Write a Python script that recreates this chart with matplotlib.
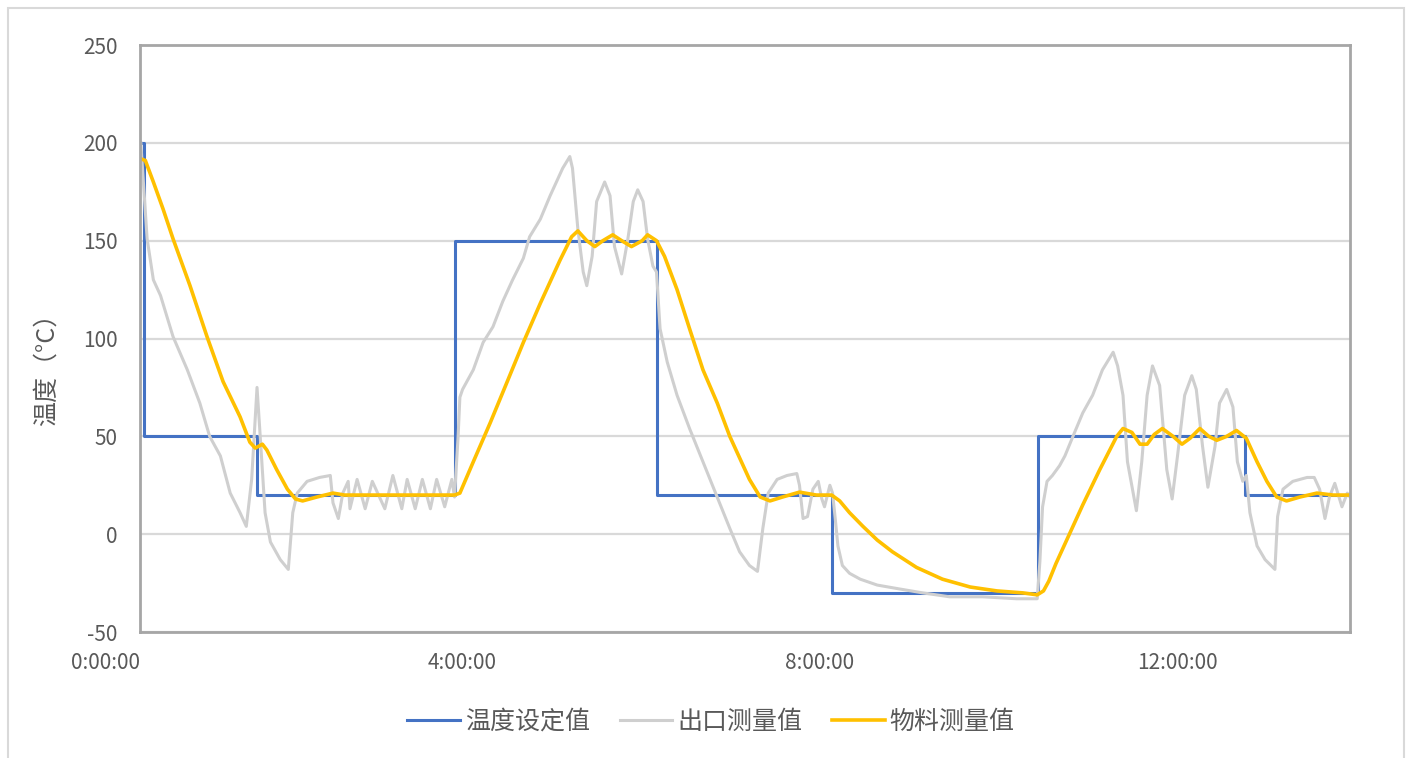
import matplotlib
matplotlib.use('Agg')
import matplotlib.pyplot as plt
import matplotlib.transforms as mtransforms
from matplotlib.patches import Rectangle

plt.rcParams['font.family'] = ['Noto Sans CJK SC', 'DejaVu Sans']
plt.rcParams['axes.unicode_minus'] = False

# 时间（小时）与温度（°C）
set_t = [0.41, 0.43, 1.70, 3.915, 6.175, 8.13, 10.44, 12.75, 13.93]
set_v = [200, 50, 20, 150, 20, -30, 50, 20, 20]

out_t = [0.40, 0.47, 0.54, 0.62, 0.76, 0.92, 1.06, 1.17, 1.29, 1.40, 1.51, 1.58, 1.64, 1.70,
         1.73, 1.79, 1.85, 1.96, 2.05, 2.10, 2.15, 2.26, 2.40, 2.52, 2.55, 2.61, 2.66, 2.72,
         2.74, 2.82, 2.91, 2.99, 3.13, 3.22, 3.32, 3.38, 3.47, 3.55, 3.64, 3.71, 3.80, 3.88,
         3.91, 3.95, 3.97, 4.00, 4.12, 4.23, 4.34, 4.45, 4.56, 4.68, 4.75, 4.87, 4.98, 5.06,
         5.12, 5.20, 5.23, 5.29, 5.35, 5.39, 5.45, 5.50, 5.59, 5.65, 5.70, 5.78, 5.85, 5.91,
         5.96, 6.02, 6.07, 6.13, 6.17, 6.21, 6.29, 6.40, 6.54, 6.69, 6.85, 6.99, 7.10, 7.21,
         7.30, 7.36, 7.42, 7.52, 7.63, 7.74, 7.77, 7.81, 7.86, 7.92, 7.98, 8.02, 8.05, 8.11,
         8.14, 8.17, 8.20, 8.25, 8.33, 8.45, 8.64, 8.89, 9.15, 9.45, 9.82, 10.20, 10.43, 10.46,
         10.49, 10.54, 10.60, 10.68, 10.74, 10.83, 10.94, 11.05, 11.16, 11.28, 11.33, 11.39,
         11.44, 11.54, 11.60, 11.66, 11.72, 11.80, 11.88, 11.94, 12.00, 12.08, 12.16, 12.21,
         12.28, 12.34, 12.42, 12.47, 12.55, 12.62, 12.67, 12.73, 12.77, 12.81, 12.89, 12.98,
         13.09, 13.12, 13.18, 13.29, 13.45, 13.53, 13.59, 13.65, 13.70, 13.76, 13.84, 13.90,
         13.93]
out_v = [200, 151, 130, 122, 101, 84, 67, 50, 40, 21, 11, 4, 28, 75,
         54, 11, -4, -13, -18, 11, 21, 27, 29, 30, 16, 8, 21, 27,
         13, 28, 13, 27, 13, 30, 13, 28, 13, 28, 13, 28, 14, 28,
         19, 50, 70, 74, 84, 98, 106, 119, 130, 141, 152, 161, 173, 181,
         187, 193, 187, 156, 134, 127, 142, 170, 180, 173, 147, 133, 151, 170,
         176, 170, 151, 137, 134, 105, 88, 71, 54, 37, 19, 3, -9, -16,
         -19, 3, 21, 28, 30, 31, 25, 8, 9, 23, 27, 18, 14, 25,
         21, 8, -6, -16, -20, -23, -26, -28, -30, -32, -32, -33, -33, -14,
         14, 27, 30, 35, 40, 50, 62, 71, 84, 93, 86, 71,
         37, 12, 37, 71, 86, 76, 33, 18, 40, 71, 81, 74,
         45, 24, 45, 67, 74, 65, 37, 27, 30, 11, -6, -13,
         -18, 9, 23, 27, 29, 29, 23, 8, 19, 26, 14, 21,
         19]

mat_t = [0.39, 0.45, 0.54, 0.65, 0.76, 0.95, 1.14, 1.32, 1.51, 1.62, 1.68, 1.76, 1.81,
         1.92, 2.04, 2.13, 2.21, 2.37, 2.55, 2.68, 3.91, 3.97, 4.12, 4.31, 4.50, 4.68, 4.87,
         5.09, 5.22, 5.29, 5.39, 5.48, 5.57, 5.68, 5.78, 5.89, 6.01, 6.07, 6.17, 6.26, 6.40,
         6.54, 6.69, 6.85, 6.99, 7.14, 7.21, 7.33, 7.44, 7.58, 7.77, 7.96, 8.13, 8.22, 8.33,
         8.48, 8.64, 8.81, 9.08, 9.37, 9.68, 9.98, 10.27, 10.43, 10.50, 10.56, 10.64, 10.76,
         10.94, 11.13, 11.32, 11.39, 11.49, 11.58, 11.66, 11.74, 11.83, 11.95, 12.05, 12.14,
         12.25, 12.35, 12.44, 12.55, 12.66, 12.77, 12.89, 13.00, 13.11, 13.22, 13.37, 13.56,
         13.74, 13.93]
mat_v = [192, 191, 180, 166, 151, 127, 101, 78, 60, 47, 44, 46, 43,
         33, 23, 18, 17, 19, 21, 20, 20, 21, 37, 57, 78, 98, 118,
         140, 152, 155, 150, 147, 150, 153, 150, 147, 150, 153, 150, 142, 125,
         105, 84, 67, 50, 35, 28, 19, 17, 19, 21.5, 20, 20, 17, 11,
         4, -3, -9, -17, -23, -27, -29, -30, -31, -29, -24, -15, -3,
         15, 33, 50, 54, 52, 46, 46, 51, 54, 50, 46, 49,
         54, 50, 48, 50, 53, 49, 37, 27, 19, 17, 19, 21,
         20, 20]

tick_hours = [0, 4, 8, 12]
tick_labels = ['0:00:00', '4:00:00', '8:00:00', '12:00:00']
series_names = ['温度设定值', '出口测量值', '物料测量值']

text_color = '#595959'

fig = plt.figure(figsize=(14.08, 7.58), dpi=100)
ax = fig.add_axes([0.0994, 0.1662, 0.8594, 0.7744])

ax.plot(set_t, set_v, drawstyle='steps-post', color='#4472C4', lw=2.2, label=series_names[0])
ax.plot(out_t, out_v, color='#CFCFCF', lw=2.2, label=series_names[1])
ax.plot(mat_t, mat_v, color='#FFC000', lw=2.6, label=series_names[2])

ax.set_xlim(0.39, 13.93)
ax.set_ylim(-50, 250)
ax.set_yticks(range(-50, 251, 50))
ax.set_xticks([])
ax.yaxis.grid(True, color='#D9D9D9', lw=1.6)
ax.set_axisbelow(True)
ax.tick_params(axis='y', length=0, pad=16, labelsize=15, labelcolor=text_color)
for s in ax.spines.values():
    s.set_color('#A6A6A6')
    s.set_linewidth(2)

# 时间轴标签
trans = mtransforms.blended_transform_factory(ax.transData, ax.transAxes)
for h, lab in zip(tick_hours, tick_labels):
    ax.text(h, -0.053, lab, transform=trans, ha='center', va='center',
            fontsize=15, color=text_color, clip_on=False)

fig.text(0.033, 0.52, '温度（°C）', rotation=90, ha='center', va='center',
         fontsize=18, color=text_color)

leg = fig.legend(loc='center', bbox_to_anchor=(0.505, 0.0475), ncol=3, frameon=False,
                 fontsize=18, handlelength=2.1, handletextpad=0.2, columnspacing=1.2)
for t in leg.get_texts():
    t.set_color(text_color)

fig.patches.append(Rectangle((8 / 1408, -0.01), (1404 - 8) / 1408, 1 - 8 / 758 + 0.01,
                             transform=fig.transFigure, fill=False,
                             edgecolor='#D9D9D9', lw=1.5))

fig.savefig('out.png', dpi=100, facecolor='white')
